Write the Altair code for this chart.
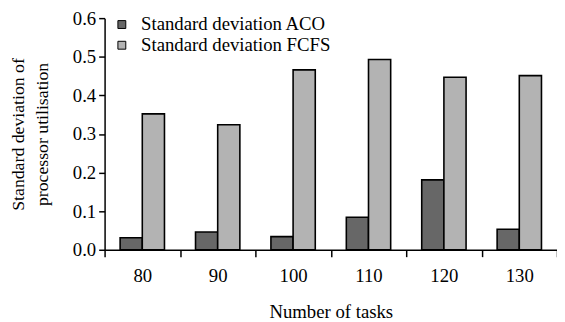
import altair as alt
import pandas as pd

tasks = ["80", "90", "100", "110", "120", "130"]
series = ["Standard deviation ACO", "Standard deviation FCFS"]
aco = [0.031, 0.046, 0.034, 0.084, 0.181, 0.053]
fcfs = [0.352, 0.324, 0.466, 0.493, 0.447, 0.451]
colors = ["#676767", "#b3b3b3"]

rows = []
for t, a, f in zip(tasks, aco, fcfs):
    rows.append({"tasks": t, "series": series[0], "value": a})
    rows.append({"tasks": t, "series": series[1], "value": f})
df = pd.DataFrame(rows)

FONT = "Liberation Serif"

chart = alt.Chart(df).mark_bar(stroke="black", strokeWidth=1.6).encode(
    x=alt.X("tasks:N", sort=tasks,
            scale=alt.Scale(paddingInner=0, paddingOuter=0),
            axis=alt.Axis(title="Number of tasks", labelAngle=0, tickBand="extent",
                          domainColor="black", domainWidth=1.5, tickColor="black",
                          tickWidth=1.5, tickSize=7, labelFontSize=19, labelPadding=10,
                          labelFont=FONT, titleFont=FONT,
                          titleFontSize=19, titleFontWeight="normal", titlePadding=18,
                          labelColor="black", titleColor="black")),
    xOffset=alt.XOffset("series:N", sort=series,
                        scale=alt.Scale(paddingInner=0, paddingOuter=0.7)),
    y=alt.Y("value:Q", scale=alt.Scale(domain=[0, 0.6], nice=False),
            axis=alt.Axis(title=["Standard deviation of", "processor utilisation"],
                          values=[0, 0.1, 0.2, 0.3, 0.4, 0.5, 0.6], format=".1f",
                          grid=False, domainColor="black", domainWidth=1.5,
                          tickColor="black", tickWidth=1.5, tickSize=6,
                          labelFont=FONT, titleFont=FONT,
                          labelFontSize=19, labelPadding=3, labelColor="black",
                          titleFontSize=18, titleFontWeight="normal", titleColor="black",
                          titleX=-96, titleBaseline="top", titleLineHeight=24)),
    color=alt.Color("series:N", sort=series,
                    scale=alt.Scale(domain=series, range=colors),
                    legend=alt.Legend(title=None, orient="none", legendX=8, legendY=-3,
                                      symbolType="square", symbolSize=64,
                                      symbolStrokeColor="black", symbolStrokeWidth=1,
                                      labelFont=FONT, labelLimit=0,
                                      labelFontSize=19, labelColor="black",
                                      rowPadding=1, labelOffset=10)),
).properties(
    width=459, height=235,
    autosize=alt.AutoSizeParams(type="none"),
    padding={"left": 98, "top": 8, "right": 0, "bottom": 70},
).configure(font=FONT).configure_view(stroke=None)

chart.save("out.html", embed_options={"renderer": "svg", "actions": False})
